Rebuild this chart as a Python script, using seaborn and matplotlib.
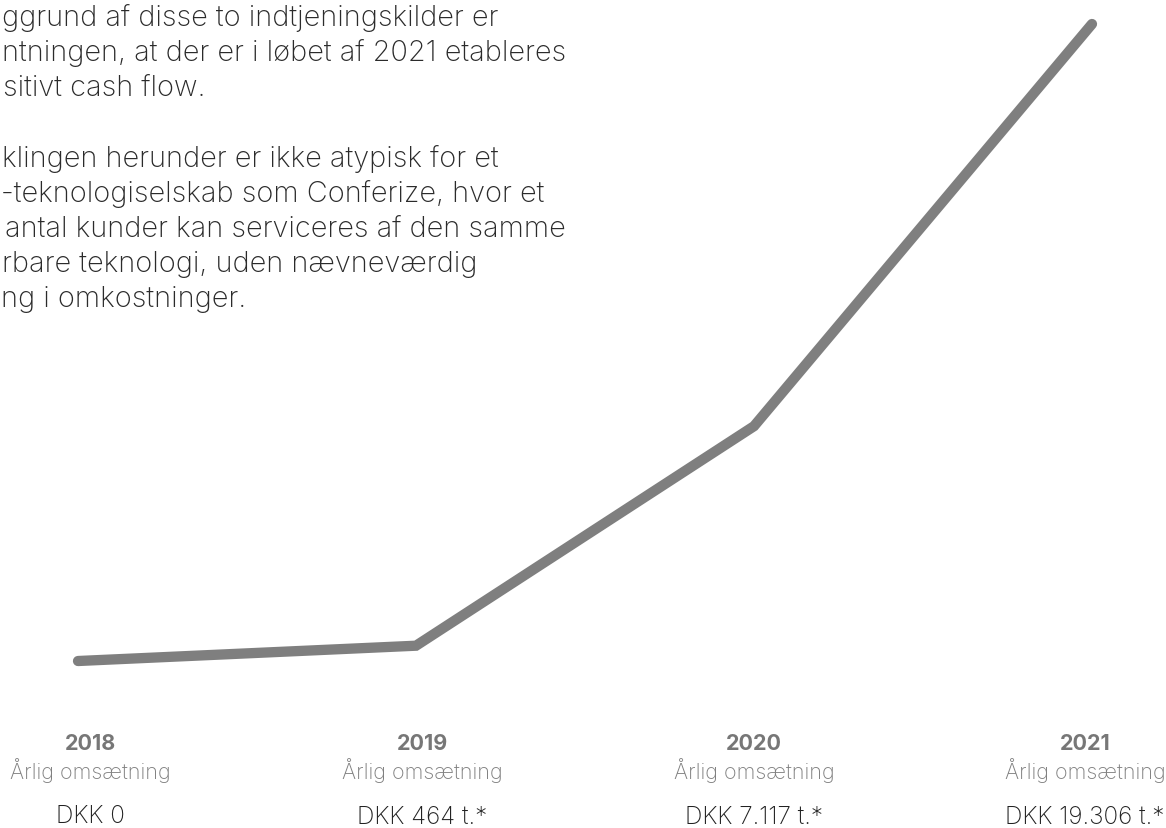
import numpy as np
import pandas as pd
import matplotlib
matplotlib.use("Agg")
import matplotlib.pyplot as plt
import seaborn as sns

# data
years = ["2018", "2019", "2020", "2021"]
revenue = [0, 464, 7117, 19306]  # DKK thousands
value_labels = ["DKK 0", "DKK 464 t.*", "DKK 7.117 t.*", "DKK 19.306 t.*"]
sub_label = "Årlig omsætning"

# paragraph text (left part is cut off in the original)
text_lines = [
    "ggrund af disse to indtjeningskilder er",
    "ntningen, at der er i løbet af 2021 etableres",
    "sitivt cash flow.",
    "",
    "klingen herunder er ikke atypisk for et",
    "-teknologiselskab som Conferize, hvor et",
    "antal kunder kan serviceres af den samme",
    "rbare teknologi, uden nævneværdig",
    "ng i omkostninger.",
]

sns.set_theme(style="white")
plt.rcParams['font.family'] = ['Inter', 'DejaVu Sans']

df = pd.DataFrame({"idx": range(len(years)), "revenue": revenue})

fig = plt.figure(figsize=(11.66, 8.29), dpi=100)
ax = fig.add_axes([0, 0, 1, 1])
sns.lineplot(data=df, x="idx", y="revenue", ax=ax, color="#7f7f7f",
             linewidth=7.4, solid_capstyle="round", solid_joinstyle="miter")
ax.set_xlim(-0.2308, 3.219)
ax.set_ylim(-5061, 20064)
ax.axis("off")

# paragraph
line_x = [2, 2, 3, 0, 2, 1, 5, 2, 1]
for i, (t, px) in enumerate(zip(text_lines, line_x)):
    if not t:
        continue
    fig.text(px / 1166, 1 - (18 + 35.2 * i) / 829, t, ha="left", va="center",
             fontsize=20.8, fontweight="light", color="#2b2b2b")

# bottom labels
label_px = [90, 422, 754, 1085]
for yr, val, px in zip(years, value_labels, label_px):
    fx = px / 1166
    fig.text(fx, 1 - 744 / 829, yr, ha="center", va="center", fontsize=15.5,
             fontweight="bold", color="#777777")
    fig.text(fx, 1 - 771 / 829, sub_label, ha="center", va="center", fontsize=15.5,
             fontweight="light", color="#808080")
    fig.text(fx, 1 - 817 / 829, val, ha="center", va="center", fontsize=17.5,
             fontweight="light", color="#222222")

fig.savefig("out.png", dpi=100)
